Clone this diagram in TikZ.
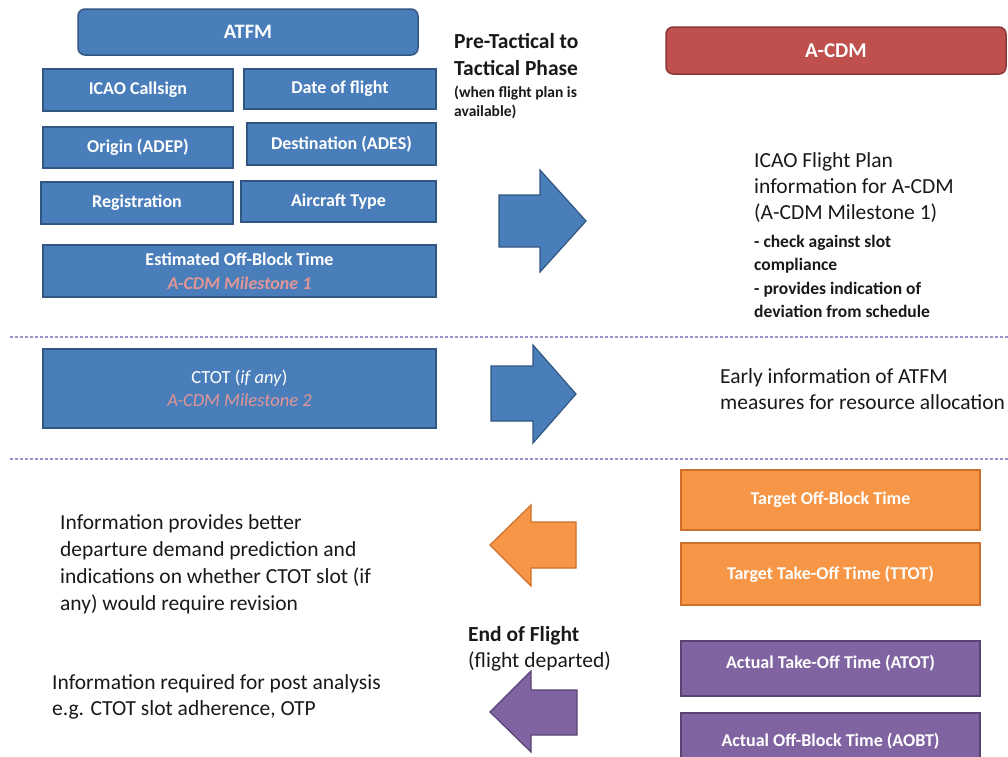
\documentclass[tikz,border=0pt]{standalone}
\usepackage{fontspec}
\setmainfont{Carlito}
\definecolor{blueF}{RGB}{74,126,187}
\definecolor{blueD}{RGB}{50,86,130}
\definecolor{redF}{RGB}{192,80,77}
\definecolor{redD}{RGB}{140,56,54}
\definecolor{orF}{RGB}{247,150,70}
\definecolor{orD}{RGB}{205,112,45}
\definecolor{puF}{RGB}{128,100,162}
\definecolor{puD}{RGB}{88,68,115}
\definecolor{pinkT}{RGB}{224,150,150}
\definecolor{dashC}{RGB}{155,145,205}
\definecolor{txt}{RGB}{25,25,25}
\begin{document}
\begin{tikzpicture}[x=1pt,y=-1pt,
  box/.style={rectangle, line width=1.5pt, text=white, align=center, inner sep=0pt,
    font=\bfseries\fontsize{18}{22}\selectfont},
  bluebox/.style={box, draw=blueD, fill=blueF},
  redbox/.style={box, draw=redD, fill=redF},
  orbox/.style={box, draw=orD, fill=orF},
  pubox/.style={box, draw=puD, fill=puF},
  bigtxt/.style={anchor=north west, inner sep=0pt, align=left, text=txt,
    font=\fontsize{21.5}{26}\selectfont},
  smalltxt/.style={anchor=north west, inner sep=0pt, align=left, text=txt,
    font=\bfseries\fontsize{17.5}{23.5}\selectfont},
  phase/.style={anchor=north west, inner sep=0pt, align=left, text=txt,
    font=\bfseries\fontsize{21.5}{27}\selectfont},
  blockarrow/.style={line width=1.2pt, line join=miter},
  sep/.style={draw=dashC, line width=1.6pt, dash pattern=on 3pt off 2pt}
]
\useasboundingbox (0,0) rectangle (1008,756);

% ATFM side
\node[bluebox, rounded corners=7pt, minimum width=340pt, minimum height=46pt,
  font=\bfseries\fontsize{20.5}{22}\selectfont] (atfm) at (248,32) {ATFM};
\node[bluebox, minimum width=190pt, minimum height=42pt] (callsign) at (138,90) {ICAO Callsign};
\node[bluebox, minimum width=192pt, minimum height=40pt] (date) at (340,89) {Date of flight};
\node[bluebox, minimum width=190pt, minimum height=41pt] (origin) at (138,147.5) {Origin (ADEP)};
\node[bluebox, minimum width=189pt, minimum height=42pt] (dest) at (341.5,144) {Destination (ADES)};
\node[bluebox, minimum width=192pt, minimum height=42pt] (reg) at (137,203) {Registration};
\node[bluebox, minimum width=195pt, minimum height=41pt] (type) at (338.5,201.5) {Aircraft Type};
\node[bluebox, minimum width=393pt, minimum height=52pt, font=\bfseries\fontsize{18}{24}\selectfont] (eobt) at (239.5,271)
  {Estimated Off-Block Time\\{\color{pinkT}\itshape A-CDM Milestone 1}};
\node[bluebox, minimum width=393pt, minimum height=79pt, font=\fontsize{18.5}{22.5}\selectfont] (ctot) at (239.5,388.5)
  {CTOT (\textit{if any})\\{\color{pinkT}\itshape A-CDM Milestone 2}};

% phase label
\node[phase] (phase) at (454,33.5) {Pre-Tactical to\\Tactical Phase};
\node[smalltxt, font=\bfseries\fontsize{15.5}{19}\selectfont] (phasenote) at (454,86)
  {(when flight plan is\\available)};

% A-CDM side
\node[redbox, rounded corners=7pt, minimum width=340pt, minimum height=47pt,
  font=\bfseries\fontsize{21}{22}\selectfont] (acdm) at (836,50.5) {A-CDM};
\node[bigtxt] (fpl) at (754,152) {ICAO Flight Plan\\information for A-CDM\\(A-CDM Milestone 1)};
\node[smalltxt] (fplnote) at (754,235) {- check against slot\\compliance\\- provides indication of\\deviation from schedule};
\node[bigtxt] (early) at (720,368) {Early information of ATFM\\measures for resource allocation};

% block arrows
\draw[blockarrow, draw=blueD, fill=blueF] (499,195) -- (540,195) -- (540,170) -- (586,221)
  -- (540,272) -- (540,247) -- (499,247) -- cycle;
\draw[blockarrow, draw=blueD, fill=blueF] (491,366) -- (533,366) -- (533,345) -- (576,394)
  -- (533,443) -- (533,421) -- (491,421) -- cycle;
\draw[blockarrow, draw=orD, fill=orF] (576,522) -- (531,522) -- (531,505) -- (490,545)
  -- (531,586) -- (531,568) -- (576,568) -- cycle;
\draw[blockarrow, draw=puD, fill=puF] (577,690) -- (531,690) -- (531,671) -- (490,712)
  -- (531,752) -- (531,735) -- (577,735) -- cycle;

% separators
\coordinate (s1a) at (10,337);
\coordinate (s1b) at (1008,337);
\coordinate (s2a) at (10,459);
\coordinate (s2b) at (1008,459);
\draw[sep] (s1a) -- (s1b);
\draw[sep] (s2a) -- (s2b);

% tactical
\node[orbox, minimum width=299pt, minimum height=60pt] (tobt) at (830.5,500) {Target Off-Block Time};
\node[orbox, minimum width=299pt, minimum height=62pt] (ttot) at (830.5,574) {Target Take-Off Time (TTOT)};
\node[bigtxt, font=\fontsize{21.5}{27}\selectfont] (info1) at (60,514) {Information provides better\\departure demand prediction and\\indications on whether CTOT slot (if\\any) would require revision};

\node[phase] (eof) at (468,626) {End of Flight};
\node[bigtxt] (eofnote) at (468,652) {(flight departed)};

\node[pubox, minimum width=299pt, minimum height=55pt, text depth=14pt] (atot) at (830.5,668.5) {Actual Take-Off Time (ATOT)};
\node[pubox, minimum width=299pt, minimum height=57pt] (aobt) at (830.5,741.5) {Actual Off-Block Time (AOBT)};
\node[bigtxt] (info2) at (52,674) {Information required for post analysis\\e.g. CTOT slot adherence, OTP};
\end{tikzpicture}
\end{document}
